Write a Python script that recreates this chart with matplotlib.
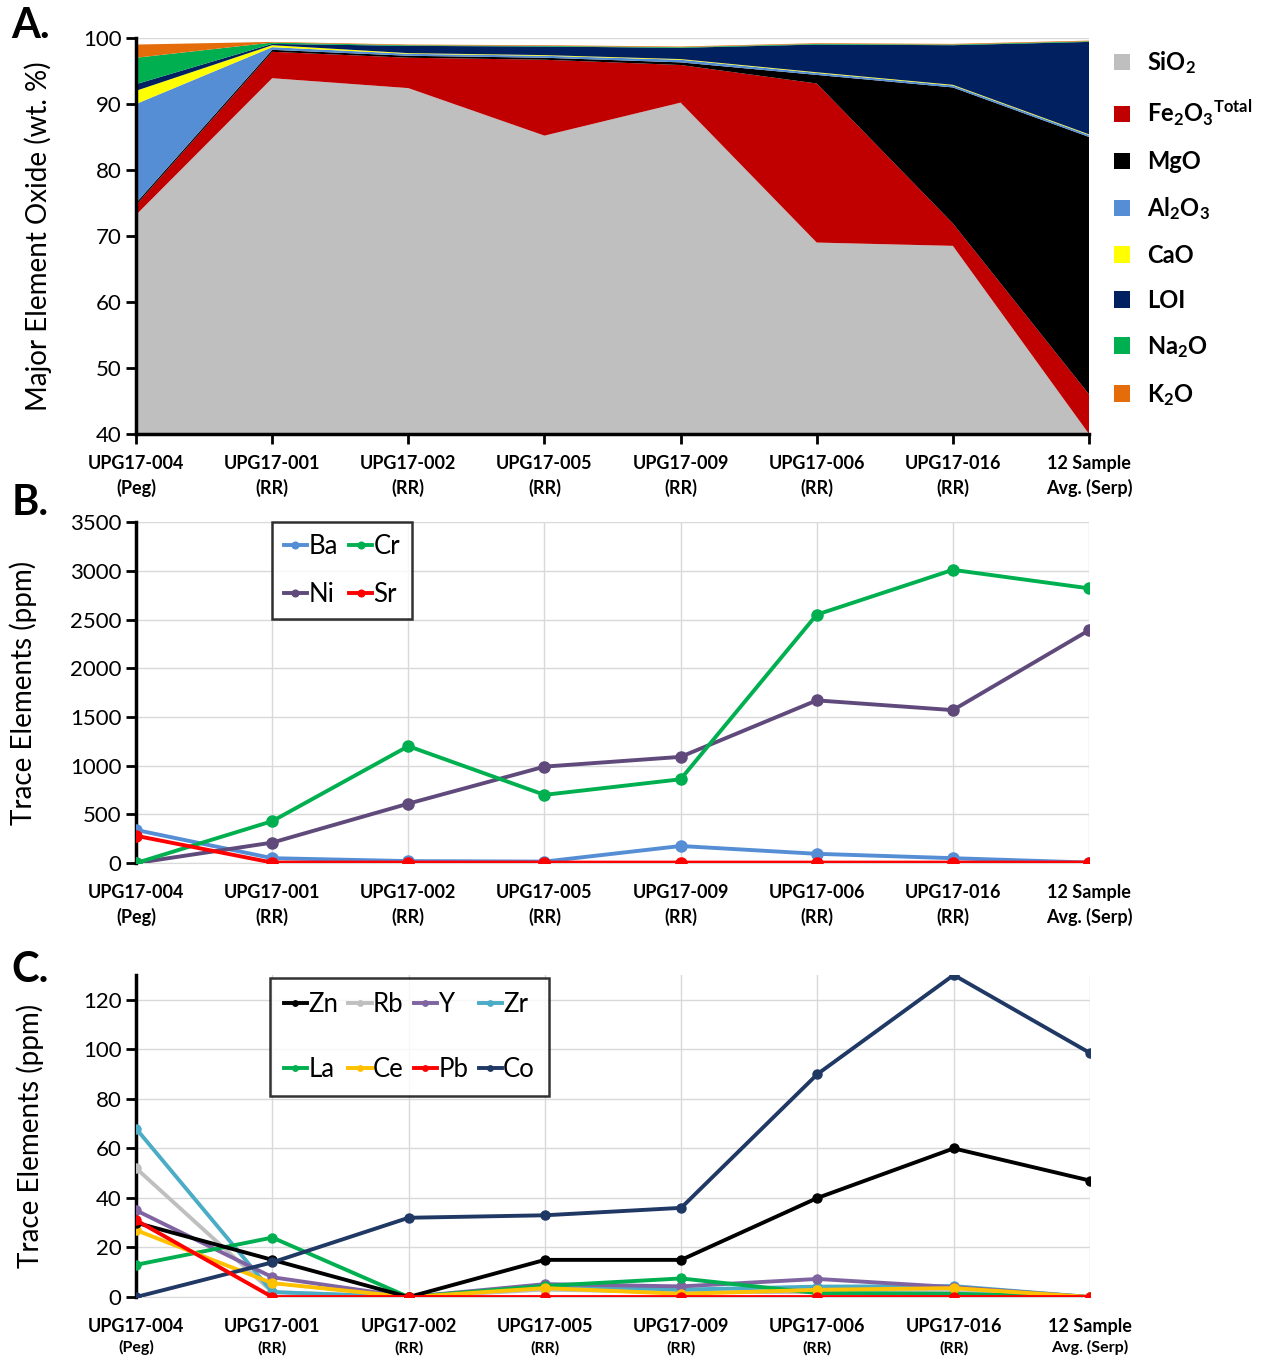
import numpy as np
import matplotlib
matplotlib.use("Agg")
import matplotlib.pyplot as plt

plt.rcParams['font.family'] = ['Lato', 'DejaVu Sans']
plt.rcParams['mathtext.fontset'] = 'custom'
plt.rcParams['mathtext.bf'] = 'Lato:bold'
plt.rcParams['mathtext.rm'] = 'Lato:bold'
plt.rcParams['mathtext.default'] = 'bf'

# samples
sample_ids = ["UPG17-004", "UPG17-001", "UPG17-002", "UPG17-005",
              "UPG17-009", "UPG17-006", "UPG17-016", "12 Sample"]
sample_types = ["(Peg)", "(RR)", "(RR)", "(RR)", "(RR)", "(RR)", "(RR)", "Avg. (Serp)"]
samples = [a + "\n" + b for a, b in zip(sample_ids, sample_types)]

# A. major element oxides (wt. %)
sio2 = [73.2, 93.9, 92.4, 85.2, 90.2, 69.0, 68.5, 40.0]
fe2o3 = [1.5, 4.0, 4.6, 11.5, 5.7, 24.1, 3.4, 6.0]
mgo = [0.3, 0.3, 0.3, 0.3, 0.4, 1.3, 20.6, 39.0]
al2o3 = [15.0, 0.4, 0.3, 0.3, 0.4, 0.3, 0.3, 0.3]
cao = [2.0, 0.3, 0.1, 0.1, 0.1, 0.1, 0.1, 0.1]
loi = [1.0, 0.2, 1.1, 1.3, 1.7, 4.2, 6.0, 14.0]
na2o = [4.0, 0.2, 0.1, 0.1, 0.1, 0.1, 0.1, 0.1]
k2o = [2.0, 0.1, 0.1, 0.1, 0.1, 0.1, 0.1, 0.1]
oxide_labels = [r"SiO$_2$", r"Fe$_2$O$_3$$^{Total}$", "MgO", r"Al$_2$O$_3$", "CaO", "LOI",
                r"Na$_2$O", r"K$_2$O"]
oxide_colors = ["#bfbfbf", "#c00000", "#000000", "#558ed5", "#ffff00", "#002060", "#00b050", "#e46c0a"]

# B. trace elements (ppm)
ba = [340, 50, 20, 15, 175, 95, 50, 5]
cr = [0, 430, 1200, 700, 860, 2550, 3010, 2820]
ni = [0, 210, 610, 990, 1090, 1670, 1570, 2390]
sr = [280, 5, 5, 5, 5, 5, 5, 5]

# C. trace elements (ppm)
zn = [30, 15, 0, 15, 15, 40, 60, 47]
rb = [52, 2, 0, 3, 2, 2, 2, 0]
y_el = [35, 8, 0, 5.2, 4.3, 7.3, 4, 0]
zr = [68, 2, 0, 4.5, 3, 4.2, 4.4, 0]
la = [13, 24, 0, 4.5, 7.5, 1.6, 1.3, 0]
ce = [27, 5.6, 0, 3.6, 1.3, 2.9, 3.6, 0]
pb = [31, 0, 0, 0, 0, 0, 0, 0]
co = [0, 14, 32, 33, 36, 90, 130, 98.5]

x = np.arange(len(samples))
fig = plt.figure(figsize=(12.61, 13.6), dpi=100)

# ---------- A ----------
axA = fig.add_axes([0.1079, 0.6809, 0.7557, 0.2912])
axA.stackplot(x, sio2, fe2o3, mgo, al2o3, cao, loi, na2o, k2o,
              colors=oxide_colors, labels=oxide_labels, zorder=2)
axA.set_xlim(0, 7)
axA.set_ylim(40, 100)
axA.set_yticks(range(40, 101, 10))
axA.yaxis.grid(True, color="#d9d9d9", lw=1, zorder=0)
axA.set_axisbelow(True)
axA.set_xticks(x)
axA.set_xticklabels(samples, fontsize=13, fontweight="bold", linespacing=1.45)
axA.tick_params(axis="y", labelsize=16, width=2, length=7, direction="out")
axA.tick_params(axis="x", width=2, length=7, direction="out", pad=8)
for s in ["top", "right"]:
    axA.spines[s].set_visible(False)
for s in ["left", "bottom"]:
    axA.spines[s].set_linewidth(2.5)
axA.set_ylabel("Major Element Oxide (wt. %)", fontsize=20, labelpad=22)
handles = [plt.Rectangle((0, 0), 1, 1, fc=c, ec="none") for c in oxide_colors]
axA.legend(handles, oxide_labels, loc="upper left", bbox_to_anchor=(1.026, 0.972),
           frameon=False, prop={"size": 17, "weight": "bold"}, handlelength=0.7,
           handleheight=0.7, handletextpad=0.7, labelspacing=0.93, borderpad=0,
           borderaxespad=0)

# ---------- B ----------
axB = fig.add_axes([0.1079, 0.3654, 0.7557, 0.2507])
for vals, col, lab in [(ba, "#558ed5", "Ba"), (ni, "#604a7b", "Ni"),
                       (cr, "#00b050", "Cr"), (sr, "#ff0000", "Sr")]:
    axB.plot(x, vals, color=col, lw=2.8, marker="o", ms=8, label=lab, zorder=3)
axB.set_xlim(0, 7)
axB.set_ylim(0, 3500)
axB.set_yticks(range(0, 3501, 500))
axB.grid(True, color="#d9d9d9", lw=1)
axB.set_axisbelow(True)
axB.set_xticks(x)
axB.set_xticklabels(samples, fontsize=13, fontweight="bold", linespacing=1.45)
axB.tick_params(axis="y", labelsize=16, width=2, length=7)
axB.tick_params(axis="x", length=0, pad=15)
for s in ["top", "right"]:
    axB.spines[s].set_visible(False)
axB.spines["left"].set_linewidth(2.5)
axB.spines["bottom"].set_color("#d9d9d9")
axB.set_ylabel("Trace Elements (ppm)", fontsize=20, labelpad=24)
legB = axB.legend(ncol=2, loc="upper left", bbox_to_anchor=(0.143, 1.0), fontsize=18.5,
                  frameon=True, fancybox=False, edgecolor="black", handlelength=0.9,
                  handletextpad=0.05, columnspacing=0.45, borderpad=0.45, labelspacing=0.92,
                  borderaxespad=0, markerscale=0.6)
legB.get_frame().set_linewidth(1.8)

# ---------- C ----------
axC = fig.add_axes([0.1079, 0.0463, 0.7565, 0.2368])
seriesC = [(zn, "#000000", "Zn"), (la, "#00b050", "La"), (rb, "#bfbfbf", "Rb"),
           (ce, "#ffc000", "Ce"), (y_el, "#8064a2", "Y"), (pb, "#ff0000", "Pb"),
           (zr, "#4bacc6", "Zr"), (co, "#1f3864", "Co")]
draw_order = ["Rb", "Zr", "Y", "La", "Ce", "Zn", "Co", "Pb"]
lines = {}
for vals, col, lab in seriesC:
    z = 3 + draw_order.index(lab) * 0.1
    lines[lab], = axC.plot(x, vals, color=col, lw=2.8, marker="o", ms=6.5, label=lab, zorder=z)
axC.set_xlim(0, 7)
axC.set_ylim(0, 130)
axC.set_yticks(range(0, 121, 20))
axC.grid(True, color="#d9d9d9", lw=1)
axC.set_axisbelow(True)
axC.set_xticks(x)
axC.set_xticklabels(sample_ids, fontsize=13, fontweight="bold")
for xi, t in zip(x, sample_types):
    axC.text(xi, -0.158, t, transform=axC.get_xaxis_transform(), ha="center", va="center",
             fontsize=11.5, fontweight="bold")
axC.tick_params(axis="y", labelsize=16, width=2, length=7)
axC.tick_params(axis="x", length=0, pad=15)
for s in ["top", "right"]:
    axC.spines[s].set_visible(False)
axC.spines["left"].set_linewidth(2.5)
axC.spines["bottom"].set_color("#d9d9d9")
axC.set_ylabel("Trace Elements (ppm)", fontsize=20, labelpad=28)
legC = axC.legend([lines[l] for _, _, l in seriesC], [l for _, _, l in seriesC], ncol=4,
                  loc="upper left", bbox_to_anchor=(0.140, 0.99), fontsize=18.5, frameon=True,
                  fancybox=False, edgecolor="black", handlelength=0.9, handletextpad=0.05,
                  columnspacing=0.4, borderpad=0.55, labelspacing=1.55, borderaxespad=0,
                  markerscale=0.6)
legC.get_frame().set_linewidth(1.8)

# panel letters
fig.text(0.009, 0.981, "A.", fontsize=30, fontweight="bold", ha="left", va="center")
fig.text(0.009, 0.630, "B.", fontsize=30, fontweight="bold", ha="left", va="center")
fig.text(0.009, 0.287, "C.", fontsize=30, fontweight="bold", ha="left", va="center")

fig.savefig("out.png", dpi=100)
